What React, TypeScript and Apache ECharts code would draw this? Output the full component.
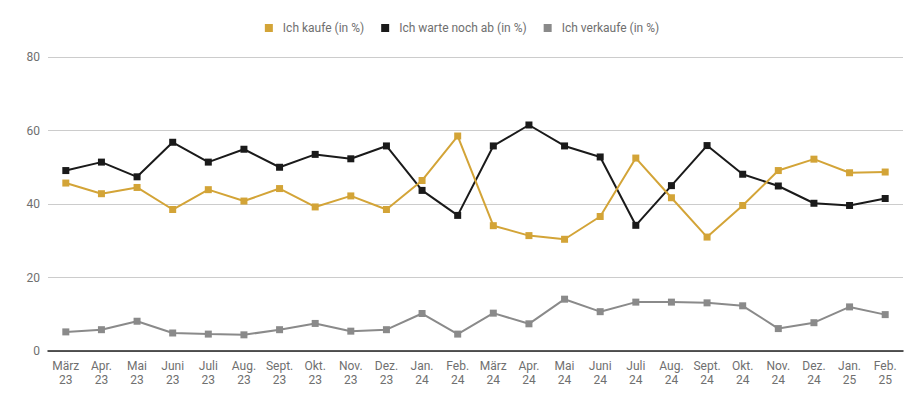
import React, { useEffect, useRef } from "react";
import * as echarts from "echarts";

const categories = [
  "März\n23", "Apr.\n23", "Mai\n23", "Juni\n23", "Juli\n23", "Aug.\n23",
  "Sept.\n23", "Okt.\n23", "Nov.\n23", "Dez.\n23", "Jan.\n24", "Feb.\n24",
  "März\n24", "Apr.\n24", "Mai\n24", "Juni\n24", "Juli\n24", "Aug.\n24",
  "Sept.\n24", "Okt.\n24", "Nov.\n24", "Dez.\n24", "Jan.\n25", "Feb.\n25",
];

const kaufe = [
  45.7, 42.8, 44.5, 38.5, 43.9, 40.8, 44.2, 39.2, 42.2, 38.5, 46.4, 58.5,
  34.1, 31.4, 30.4, 36.6, 52.5, 41.7, 31.0, 39.6, 49.1, 52.2, 48.5, 48.7,
];

const warte = [
  49.1, 51.4, 47.4, 56.8, 51.4, 54.9, 50.0, 53.5, 52.3, 55.8, 43.7, 36.9,
  55.8, 61.5, 55.8, 52.8, 34.2, 45.0, 55.9, 48.1, 44.9, 40.2, 39.6, 41.5,
];

const verkaufe = [
  5.2, 5.8, 8.1, 4.9, 4.6, 4.4, 5.8, 7.5, 5.4, 5.8, 10.2, 4.6,
  10.3, 7.4, 14.1, 10.7, 13.3, 13.3, 13.1, 12.3, 6.1, 7.7, 12.0, 9.9,
];

const seriesNames = ["Ich kaufe (in %)", "Ich warte noch ab (in %)", "Ich verkaufe (in %)"];
const colors = ["#D3A437", "#1A1A1A", "#8A8A8A"];

export default function App() {
  const ref = useRef<HTMLDivElement>(null);
  useEffect(() => {
    if (!ref.current) return;
    const chart = echarts.init(ref.current, undefined, { renderer: "svg" });
    const font = "Roboto, 'Noto Sans', sans-serif";
    const mk = (name: string, data: number[], color: string) => ({
      name,
      type: "line",
      data,
      symbol: "rect",
      symbolSize: 7,
      lineStyle: { width: 2, color },
      itemStyle: { color },
      z: name === seriesNames[2] ? 1 : name === seriesNames[0] ? 3 : 2,
    });
    chart.setOption({
      animation: false,
      textStyle: { fontFamily: font },
      color: colors,
      legend: {
        top: 9,
        left: "center",
        icon: "rect",
        itemWidth: 8,
        itemHeight: 8,
        itemGap: 17,
        textStyle: {
          color: "#6f6f6f",
          fontSize: 12,
          fontFamily: font,
          padding: [0, 0, 0, 5],
        },
        data: seriesNames,
      },
      grid: { left: 40, right: 13, top: 49, bottom: 48, containLabel: false },
      xAxis: {
        type: "category",
        data: categories,
        boundaryGap: true,
        axisLine: { lineStyle: { color: "#222", width: 1.5 } },
        axisTick: { show: false },
        axisLabel: {
          color: "#6f6f6f",
          fontSize: 12,
          lineHeight: 14,
          margin: 8,
          interval: 0,
          fontFamily: font,
        },
      },
      yAxis: {
        type: "value",
        min: 0,
        max: 80,
        interval: 20,
        axisLine: { show: false },
        axisTick: { show: false },
        splitLine: { lineStyle: { color: "#cccccc", width: 1 } },
        axisLabel: { color: "#6f6f6f", fontSize: 12, margin: 8, fontFamily: font },
      },
      series: [
        mk(seriesNames[0], kaufe, colors[0]),
        mk(seriesNames[1], warte, colors[1]),
        mk(seriesNames[2], verkaufe, colors[2]),
      ],
    });
    return () => chart.dispose();
  }, []);
  return <div ref={ref} style={{ width: 908, height: 391 }} />;
}
